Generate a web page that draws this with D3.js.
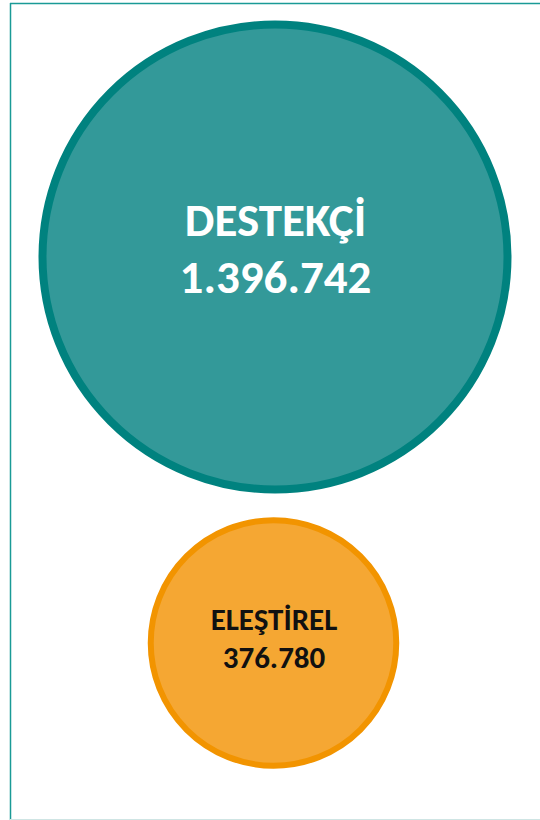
<!DOCTYPE html>
<html><head><meta charset="utf-8">
<script src="https://cdn.jsdelivr.net/npm/d3@7"></script>
<style>html,body{margin:0;padding:0;background:#fff;}svg{display:block;}</style>
</head><body>
<script>
const categories = ["DESTEKÇİ", "ELEŞTİREL"];
const values = [1396742, 376780];
const valueLabels = ["1.396.742", "376.780"];
const fills = ["#339999", "#F5A733"];
const strokes = ["#00827F", "#F29400"];

const W = 540, H = 820;
const svg = d3.select("body").append("svg").attr("width", W).attr("height", H);

svg.append("line").attr("x1", 10.5).attr("x2", 10.5).attr("y1", 3).attr("y2", 820)
  .attr("stroke", "#1a9a96").attr("stroke-width", 1.5);
svg.append("line").attr("x1", 10).attr("x2", 540).attr("y1", 3.5).attr("y2", 3.5)
  .attr("stroke", "#1a9a96").attr("stroke-width", 1.5);
svg.append("line").attr("x1", 10).attr("x2", 540).attr("y1", 819.5).attr("y2", 819.5)
  .attr("stroke", "#cfe5e4").attr("stroke-width", 1);

const r = d3.scaleSqrt().domain([0, d3.max(values)]).range([0, 232.5]);
const cx = [275, 273.5];
const cy = [257, 643];
const sw = [8, 6];
const fontSizes = [47, 31];
const lineGap = [57, 38];
const textColors = ["#ffffff", "#111111"];

const g = svg.selectAll("g.bubble").data(values).join("g").attr("class", "bubble");
g.append("circle")
  .attr("cx", (d, i) => cx[i]).attr("cy", (d, i) => cy[i])
  .attr("r", (d, i) => r(d) + (i === 1 ? 2 : 0))
  .attr("fill", (d, i) => fills[i]).attr("stroke", (d, i) => strokes[i])
  .attr("stroke-width", (d, i) => sw[i]);

const t = g.append("text")
  .attr("text-anchor", "middle")
  .attr("font-family", "Carlito, Calibri, Lato, 'Open Sans', sans-serif")
  .attr("font-weight", "bold")
  .attr("font-size", (d, i) => fontSizes[i])
  .attr("fill", (d, i) => textColors[i]);
t.append("tspan").attr("x", (d, i) => cx[i] + 0.5).attr("y", (d, i) => cy[i] - lineGap[i] / 2 + (i === 0 ? 7 : 6))
  .text((d, i) => categories[i]);
t.append("tspan").attr("x", (d, i) => cx[i] + 0.5).attr("y", (d, i) => cy[i] + lineGap[i] / 2 + (i === 0 ? 7 : 6))
  .text((d, i) => valueLabels[i]);
</script>
</body></html>
